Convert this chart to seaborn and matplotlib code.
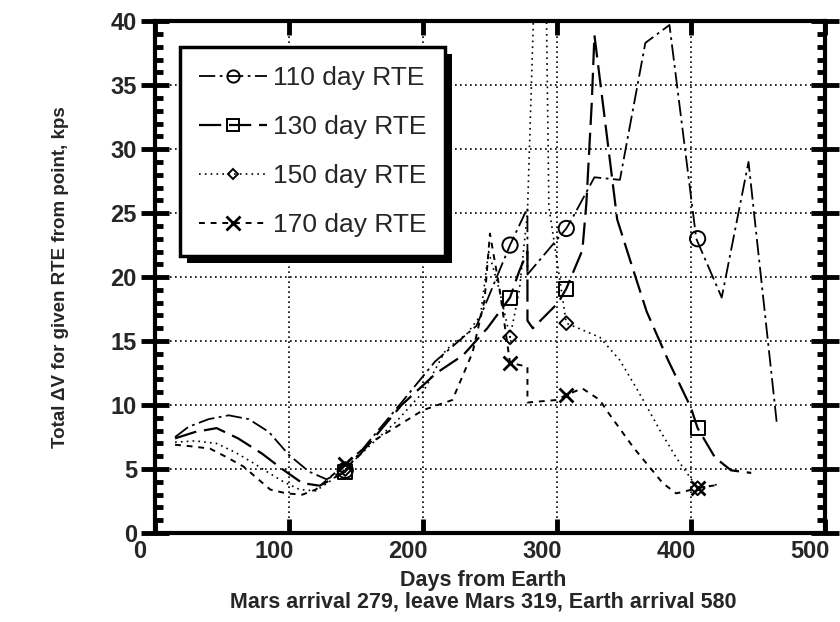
import matplotlib
matplotlib.use("Agg")
import matplotlib.pyplot as plt
import matplotlib.transforms as mtransforms
import matplotlib.patheffects as pe
from matplotlib.lines import Line2D
from matplotlib.ticker import MultipleLocator
import seaborn as sns

# ---------------- data ----------------
days110 = [15, 25, 40, 55, 70, 85, 100, 115, 128, 142, 160, 184, 209, 230, 240, 265, 278, 278,
           307, 312, 328, 347, 366, 384, 404, 423, 443, 464]
dv110 = [7.5, 8.3, 8.9, 9.2, 8.9, 7.9, 6.1, 4.8, 4.2, 4.9, 7.2, 10.2, 13.4, 15.3, 16.2, 22.5, 25.4, 20.2,
         23.8, 24.7, 27.8, 27.6, 38.3, 39.7, 23.0, 18.4, 29.0, 8.7]

days130 = [15, 30, 46, 62, 80, 95, 110, 123, 142, 160, 184, 210, 230, 248, 265, 272, 278, 278,
           282, 301, 307, 319, 322, 326, 328, 345, 355, 367, 383, 400, 405, 418, 430, 445]
dv130 = [7.4, 7.9, 8.2, 7.4, 6.2, 5.0, 3.9, 3.7, 4.8, 7.0, 10.0, 12.5, 13.9, 16.0, 18.4, 20.5, 22.0, 16.6,
         16.0, 18.0, 19.1, 22.1, 25.8, 33.6, 38.9, 24.5, 21.2, 17.3, 13.5, 9.8, 8.2, 5.9, 4.9, 4.7]

days150 = [15, 30, 46, 60, 73, 85, 96, 108, 120, 130, 142, 160, 180, 200, 217, 233, 243, 249, 257,
           265, 272, 278, 283, 292, 294, 307, 332, 347, 360, 367, 377, 389, 405, 420]
dv150 = [7.1, 7.2, 7.0, 6.3, 5.5, 4.7, 4.0, 3.4, 3.3, 4.0, 5.0, 6.8, 8.7, 11.0, 14.3, 15.6, 17.0, 22.0, 19.0,
         15.3, 19.0, 25.0, 42.0, 42.0, 25.5, 16.4, 15.3, 13.5, 11.2, 9.9, 8.0, 5.9, 3.5, 3.8]

days170 = [15, 25, 41, 54, 66, 76, 86, 98, 110, 120, 130, 142, 160, 180, 200, 222, 237, 246, 250,
           257, 265, 278, 278, 300, 307, 319, 332, 337, 357, 379, 389, 405, 419]
dv170 = [6.9, 6.8, 6.6, 5.9, 5.2, 4.3, 3.4, 3.1, 3.0, 3.4, 4.3, 5.4, 7.0, 8.3, 9.6, 10.4, 14.1, 18.2, 23.4,
         19.2, 13.3, 13.0, 10.2, 10.4, 10.8, 11.3, 10.4, 9.6, 6.7, 3.9, 3.1, 3.5, 3.75]

mk_days = [142, 265, 307, 405]
mk110 = [4.9, 22.5, 23.8, 23.0]
mk130 = [4.8, 18.4, 19.1, 8.2]
mk150 = [5.0, 15.3, 16.4, 3.5]
mk170 = [5.4, 13.3, 10.8, 3.5]

labels = ["110 day RTE", "130 day RTE", "150 day RTE", "170 day RTE"]
xticks = [0, 100, 200, 300, 400, 500]
yticks = [0, 5, 10, 15, 20, 25, 30, 35, 40]

# ---------------- style ----------------
sns.set_style("white")
plt.rcParams["font.family"] = ["Liberation Sans", "DejaVu Sans"]

fig, ax = plt.subplots(figsize=(8.4, 6.22), dpi=100)
fig.subplots_adjust(left=0.1845, right=0.982, top=0.966, bottom=0.143)

styles = [
    dict(ls=(0, (9, 2.5, 1.5, 2.5)), lw=1.3, marker="o", ms=11),
    dict(ls=(0, (10, 3.5)), lw=1.6, marker="s", ms=10),
    dict(ls=(0, (1, 2.5)), lw=1.2, marker="D", ms=7),
    dict(ls=(0, (3, 3)), lw=1.4, marker="x", ms=10),
]
series = [(days110, dv110, mk110), (days130, dv130, mk130),
          (days150, dv150, mk150), (days170, dv170, mk170)]

for (d, v, mk), st in zip(series, styles):
    sns.lineplot(x=d, y=v, ax=ax, sort=False, estimator=None, color="black",
                 linestyle=st["ls"], linewidth=st["lw"])
    if st["marker"] == "x":
        sns.scatterplot(x=mk_days, y=mk, ax=ax, marker="x", s=st["ms"] ** 2,
                        color="black", linewidth=2.0, zorder=5)
    else:
        sns.scatterplot(x=mk_days, y=mk, ax=ax, marker=st["marker"], s=st["ms"] ** 2,
                        facecolor="none", edgecolor="black", linewidth=1.4, zorder=5)

ax.set_xlim(0, 500)
ax.set_ylim(0, 40)
ax.set_xticks(xticks)
ax.set_yticks(yticks)
ax.set_xticklabels([str(t) for t in xticks], fontweight="bold", fontsize=17)
ax.set_yticklabels([str(t) for t in yticks], fontweight="bold", fontsize=17)
ax.yaxis.set_minor_locator(MultipleLocator(1))

for sp in ax.spines.values():
    sp.set_visible(True)
    sp.set_linewidth(3)
    sp.set_color("black")

ax.tick_params(axis="x", which="major", direction="in", length=10, width=3.5,
               top=True, bottom=True, pad=5, color="black")
ax.tick_params(axis="y", which="major", direction="inout", length=20, width=3.5,
               left=True, right=True, pad=3, color="black")
ax.tick_params(axis="y", which="minor", direction="in", length=6, width=3.5,
               left=True, right=True, color="black")

ax.grid(True, which="major", color="black", linestyle=(0, (1, 2)), linewidth=1.2)

# shift x tick labels slightly left as in the scan
off = mtransforms.ScaledTranslation(-15 / 100, 0, fig.dpi_scale_trans)
for lab in ax.get_xticklabels():
    lab.set_transform(lab.get_transform() + off)

ax.set_ylabel("Total ΔV for given RTE from point, kps", fontsize=13.5,
              fontweight="bold")
ax.yaxis.set_label_coords(-0.128, 0.5)
ax.set_xlabel("Days from Earth\nMars arrival 279, leave Mars 319, Earth arrival 580",
              fontsize=15.5, fontweight="bold", linespacing=1.05)
ax.xaxis.set_label_coords(0.49, -0.072)

handles = []
for st in styles:
    if st["marker"] == "x":
        h = Line2D([], [], color="black", linestyle=st["ls"], linewidth=st["lw"],
                   marker="x", markersize=10, markeredgewidth=2.0)
    else:
        h = Line2D([], [], color="black", linestyle=st["ls"], linewidth=st["lw"],
                   marker=st["marker"], markersize=st["ms"] * 0.8,
                   markerfacecolor="none", markeredgewidth=1.4)
    handles.append(h)

leg = ax.legend(handles, labels, loc="upper left", bbox_to_anchor=(0.037, 0.949),
                borderaxespad=0, fontsize=19, fancybox=False, framealpha=1,
                handlelength=2.6, handletextpad=0.2, labelspacing=0.95,
                borderpad=0.72, edgecolor="black")
leg.get_frame().set_linewidth(2.5)
leg.get_frame().set_path_effects([
    pe.SimplePatchShadow(offset=(5, -5), shadow_rgbFace="black", alpha=1.0),
    pe.Normal()])
leg.set_zorder(10)

fig.savefig("out.png", dpi=100)
